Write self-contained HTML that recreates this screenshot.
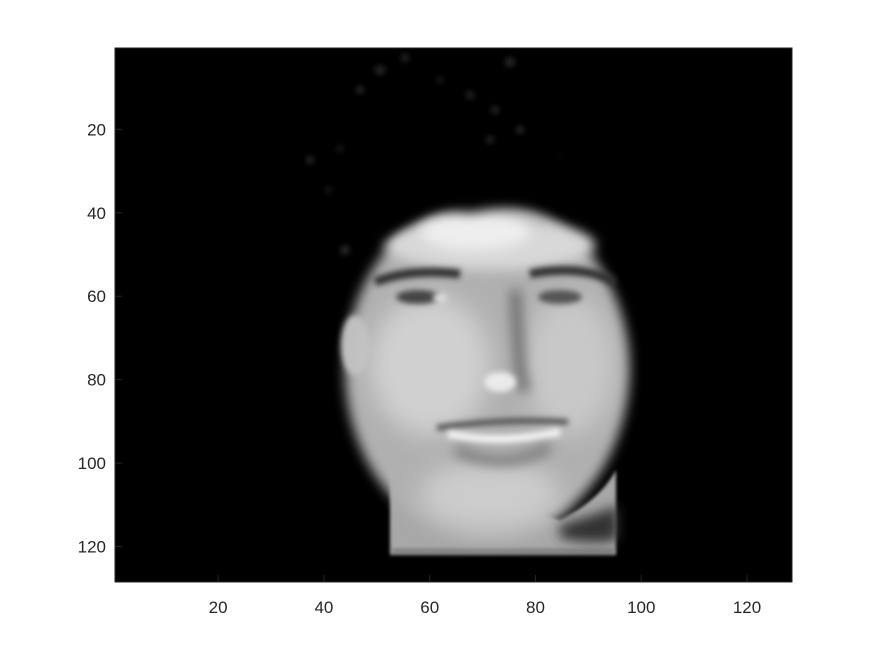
<!DOCTYPE html>
<html><head><meta charset="utf-8"><style>
html,body{margin:0;padding:0;background:#fff;}
svg{display:block;font-family:"Liberation Sans",Arial,sans-serif;}
</style></head><body>
<svg id="chart" width="875" height="656" viewBox="0 0 875 656">
<defs>
<filter id="b6" filterUnits="userSpaceOnUse" x="0" y="0" width="875" height="656"><feGaussianBlur stdDeviation="6"/></filter>
<filter id="b3" filterUnits="userSpaceOnUse" x="0" y="0" width="875" height="656"><feGaussianBlur stdDeviation="3"/></filter>
<filter id="b2" filterUnits="userSpaceOnUse" x="0" y="0" width="875" height="656"><feGaussianBlur stdDeviation="1.5"/></filter>
<filter id="b12" filterUnits="userSpaceOnUse" x="0" y="0" width="875" height="656"><feGaussianBlur stdDeviation="12"/></filter>
<clipPath id="pc"><rect x="115" y="48" width="677" height="534"/></clipPath>
</defs>
<rect x="115" y="48" width="677" height="534" fill="#000"/>
<g clip-path="url(#pc)">
  <g filter="url(#b3)" fill="#262626">
    <circle cx="380" cy="70" r="5"/><circle cx="405" cy="58" r="4"/><circle cx="510" cy="62" r="5"/>
    <circle cx="470" cy="95" r="4"/><circle cx="495" cy="110" r="4"/><circle cx="490" cy="140" r="4"/>
    <circle cx="520" cy="130" r="4"/><circle cx="310" cy="160" r="4"/><circle cx="340" cy="150" r="4"/>
    <circle cx="560" cy="160" r="4"/><circle cx="580" cy="190" r="4"/><circle cx="330" cy="190" r="4"/>
    <circle cx="345" cy="250" r="5"/><circle cx="360" cy="90" r="4"/><circle cx="440" cy="80" r="3"/>
  </g>
  <g filter="url(#b2)">
    <path d="M390 470 L390 555 L616 555 L616 470 Q600 500 560 520 Z" fill="#a8a8a8"/>
    <rect x="392" y="548" width="222" height="6" fill="#858585"/>
  </g>
  <g>
    <ellipse cx="487" cy="370" rx="142" ry="170" fill="#b0b0b0" filter="url(#b6)"/>
    <ellipse cx="355" cy="345" rx="14" ry="30" fill="#c0c0c0" filter="url(#b3)"/>
    <ellipse cx="430" cy="365" rx="60" ry="70" fill="#d0d0d0" filter="url(#b12)"/>
    <ellipse cx="570" cy="365" rx="45" ry="70" fill="#c8c8c8" filter="url(#b12)"/>
    <ellipse cx="490" cy="495" rx="70" ry="35" fill="#cccccc" filter="url(#b12)"/>
    <path d="M560 525 Q595 515 618 505 L618 540 Q590 545 560 538Z" fill="#333" filter="url(#b6)"/>
    <ellipse cx="490" cy="245" rx="105" ry="25" fill="#d8d8d8" filter="url(#b6)"/>
    <ellipse cx="475" cy="232" rx="55" ry="18" fill="#eeeeee" filter="url(#b6)"/>
    <path d="M330 230 Q360 215 380 240 Q420 200 470 212 Q520 200 560 210 Q600 215 625 250 L625 150 L330 150Z" fill="#000" filter="url(#b6)"/>
    <path d="M375 282 Q410 268 460 274" stroke="#333" stroke-width="9" fill="none" filter="url(#b3)"/>
    <path d="M530 274 Q580 264 615 282" stroke="#333" stroke-width="9" fill="none" filter="url(#b3)"/>
    <ellipse cx="418" cy="297" rx="22" ry="7" fill="#444" filter="url(#b3)"/>
    <ellipse cx="560" cy="297" rx="22" ry="7" fill="#555" filter="url(#b3)"/>
    <ellipse cx="440" cy="298" rx="7" ry="5" fill="#ddd" filter="url(#b3)"/>
    <path d="M515 290 L520 370 L525 392" stroke="#666" stroke-width="10" fill="none" filter="url(#b6)"/>
    <ellipse cx="500" cy="382" rx="16" ry="10" fill="#eaeaea" filter="url(#b3)"/>
    <path d="M437 428 Q500 418 568 422" stroke="#555" stroke-width="6" fill="none" filter="url(#b3)"/>
    <path d="M448 434 Q500 445 560 432" stroke="#f4f4f4" stroke-width="8" fill="none" filter="url(#b3)"/>
    <path d="M455 450 Q505 472 550 447" stroke="#777" stroke-width="10" fill="none" filter="url(#b6)"/>
  </g>
</g>
<rect x="115" y="48" width="677" height="534" fill="none" stroke="#262626" stroke-width="1"/>
<g id="ticks" font-size="17" fill="#262626"></g>
<script>
const xTicks=[20,40,60,80,100,120];
const yTicks=[20,40,60,80,100,120];
const nPix=128;
const x0=115,y0=48,w=677,h=534;
function xs(v){return x0+(v-0.5)/nPix*w;}
function ys(v){return y0+(v-0.5)/nPix*h;}
const g=document.getElementById('ticks');
const NS='http://www.w3.org/2000/svg';
xTicks.forEach(v=>{
  const l=document.createElementNS(NS,'line');
  
  
  l.setAttribute('x1',xs(v));l.setAttribute('x2',xs(v));l.setAttribute('y1',582);l.setAttribute('y2',575);l.setAttribute('stroke','#262626');
  g.appendChild(l);
  const t=document.createElementNS(NS,'text');
  
  
  t.setAttribute('x',xs(v));t.setAttribute('y',613);t.setAttribute('text-anchor','middle');
  t.textContent=v;g.appendChild(t);
});
yTicks.forEach(v=>{
  const l=document.createElementNS(NS,'line');
  
  
  l.setAttribute('x1',115);l.setAttribute('x2',122);l.setAttribute('y1',ys(v));l.setAttribute('y2',ys(v));l.setAttribute('stroke','#262626');
  g.appendChild(l);
  const t=document.createElementNS(NS,'text');
  
  
  t.setAttribute('x',106);t.setAttribute('y',ys(v)+6);t.setAttribute('text-anchor','end');
  t.textContent=v;g.appendChild(t);
});
</script>
</svg>
</body></html>
